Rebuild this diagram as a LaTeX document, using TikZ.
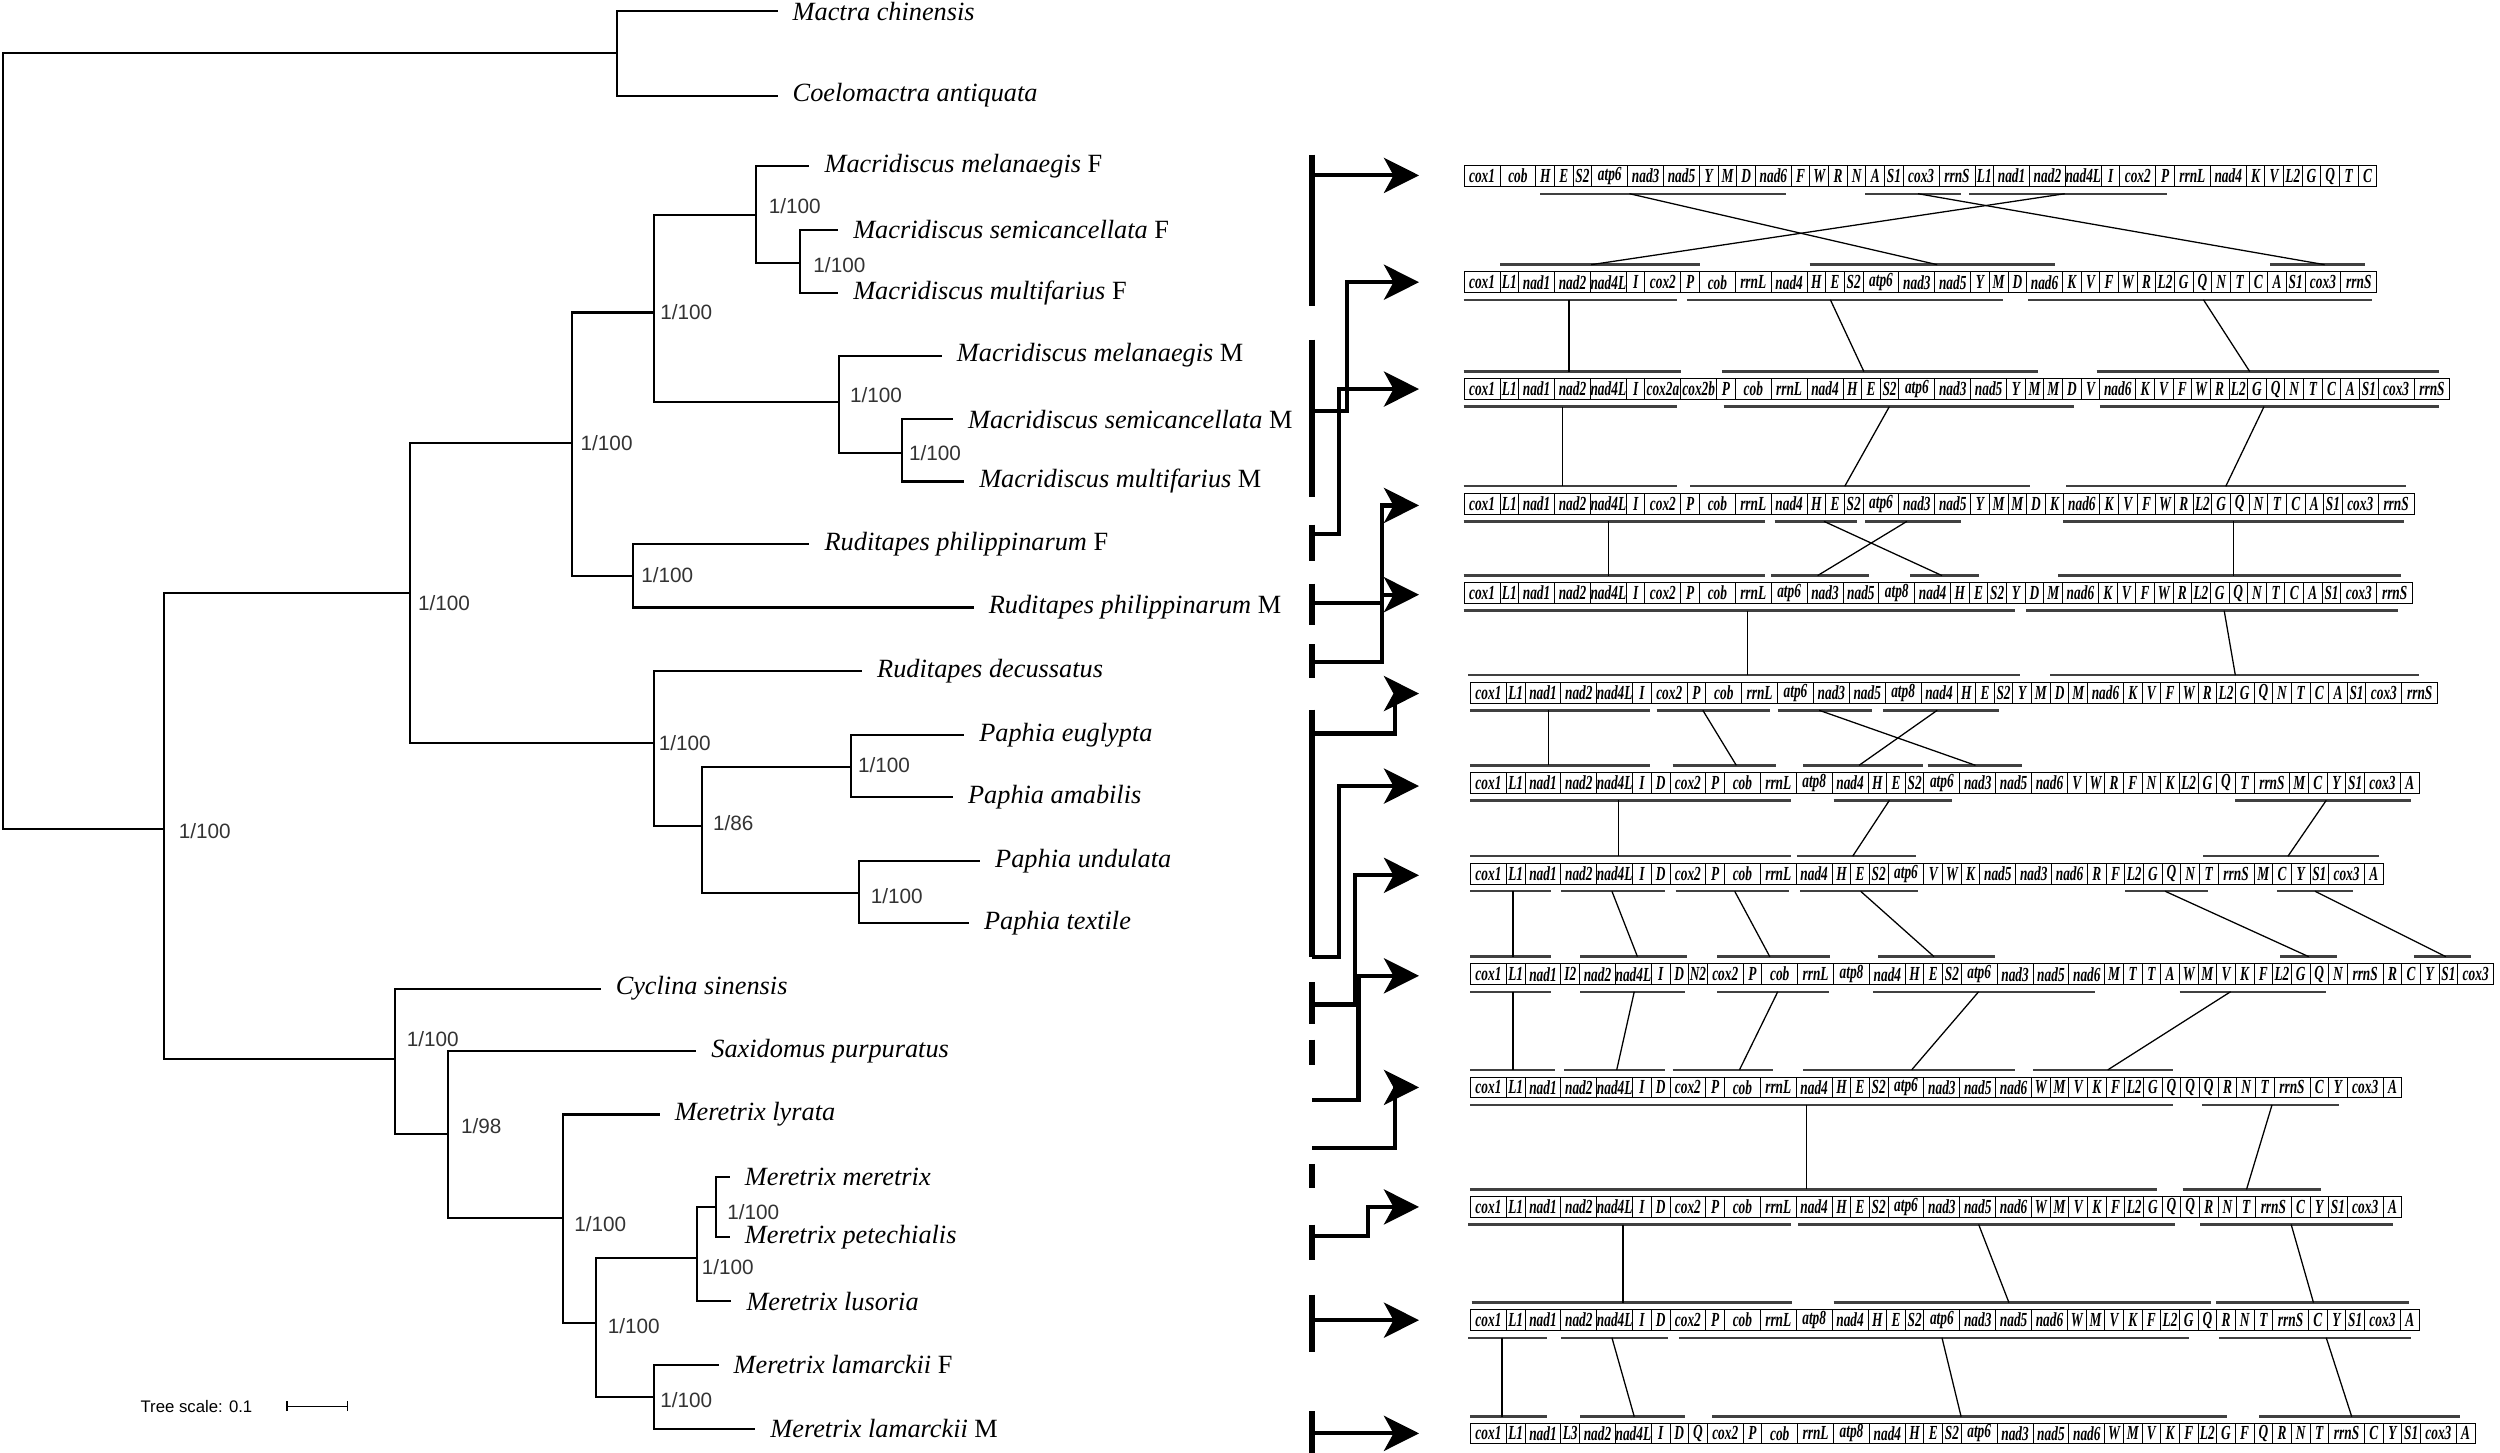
\documentclass[tikz,border=0pt]{standalone}
\usepackage{fontspec}
\setmainfont{Liberation Serif}
\newfontfamily\labfont{Liberation Sans}
\usepackage{graphicx}
\usetikzlibrary{arrows.meta}
\newcommand\genefont{\fontsize{12.5}{12.5}\selectfont\bfseries\itshape}
\def\gchk#1#2#3#4\end{\ifx\relax#3\gdef\gw{11.7}\else\gdef\gw{22.5}\fi}
\newcommand\generow[4]{%
  \xdef\gx{#3}%
  \foreach \g [count=\i] in {#4}{%
    \expandafter\gchk\g\relax\relax\relax\end
    \node[gbox, minimum width=\gw pt] (#1g\i) at (\gx,#2) {\scalebox{0.67}[1]{\g}};
    \pgfmathsetmacro\nx{\gx+\gw}\xdef\gx{\nx}%
  }%
}
\newcommand\genebars[2]{\foreach \a/\b in {#2}{\draw[genebar] (\a,#1) -- (\b,#1);}}
\newcommand\genelinks[3]{\foreach \a/\b in {#3}{\draw[geneconn] (\a,#1) -- (\b,#2);}}
\begin{document}
\begin{tikzpicture}[x=1pt,y=-1pt,
  gbox/.style={draw, line width=0.6pt, fill=white, minimum height=13pt, inner sep=0pt, anchor=west, font=\genefont},
  genebar/.style={line width=1.5pt, black!75},
  geneconn/.style={line width=0.8pt},
  tree/.style={line width=1.3pt, line cap=rect},
  leaf/.style={anchor=west, inner xsep=10pt, inner ysep=1pt, font=\fontsize{16.5}{18}\selectfont\itshape},
  bs/.style={anchor=west, inner sep=0pt, font=\labfont\fontsize{13}{13}\selectfont, text=black!80},
  thickbar/.style={line width=3.6pt},
  bigarrow/.style={line width=2.6pt, -{Stealth[length=22pt,width=22pt,inset=6pt]}},
]
\useasboundingbox (0,0) rectangle (1568,911);
\fill[white] (0,0) rectangle (1568,911);

% ---------------- tree ----------------
\coordinate (root) at (2,276);
\coordinate (nA) at (387,33);
\coordinate (nB) at (103,520);
\coordinate (nC) at (257,372);
\coordinate (nD) at (359,278);
\coordinate (nE) at (410,196);
\coordinate (nF) at (474,135);
\coordinate (nG) at (502,165);
\coordinate (nM) at (526,252);
\coordinate (nN) at (566,284);
\coordinate (nR) at (397,361);
\coordinate (nP) at (410,466);
\coordinate (nQ) at (440,518);
\coordinate (nU) at (534,481);
\coordinate (nV) at (539,560);
\coordinate (nT) at (248,664);
\coordinate (nW) at (281,711);
\coordinate (nX) at (353,764);
\coordinate (nY) at (374,830);
\coordinate (nZ) at (437,789);
\coordinate (nZa) at (449,757);
\coordinate (nL) at (410,876);

\node[leaf] (lmc) at (487,7) {Mactra chinensis};
\node[leaf] (lca) at (487,60) {Coelomactra antiquata};
\node[leaf] (lmmF) at (507,104) {Macridiscus melanaegis \textup{F}};
\node[leaf] (lmsF) at (525,144) {Macridiscus semicancellata \textup{F}};
\node[leaf] (lmfF) at (525,184) {Macridiscus multifarius \textup{F}};
\node[leaf] (lmmM) at (590,223) {Macridiscus melanaegis \textup{M}};
\node[leaf] (lmsM) at (597,263) {Macridiscus semicancellata \textup{M}};
\node[leaf] (lmfM) at (604,302) {Macridiscus multifarius \textup{M}};
\node[leaf] (lrpF) at (507,341) {Ruditapes philippinarum \textup{F}};
\node[leaf] (lrpM) at (610,381) {Ruditapes philippinarum \textup{M}};
\node[leaf] (lrd) at (540,421) {Ruditapes decussatus};
\node[leaf] (lpe) at (604,461) {Paphia euglypta};
\node[leaf] (lpa) at (597,500) {Paphia amabilis};
\node[leaf] (lpu) at (614,540) {Paphia undulata};
\node[leaf] (lpt) at (607,579) {Paphia textile};
\node[leaf] (lcs) at (376,620) {Cyclina sinensis};
\node[leaf] (lsp) at (436,659) {Saxidomus purpuratus};
\node[leaf] (lml) at (413,699) {Meretrix lyrata};
\node[leaf] (lmm) at (457,738) {Meretrix meretrix};
\node[leaf] (lmp) at (457,776) {Meretrix petechialis};
\node[leaf] (lmlu) at (458,816) {Meretrix lusoria};
\node[leaf] (lmlF) at (450,856) {Meretrix lamarckii \textup{F}};
\node[leaf] (lmlM) at (473,896) {Meretrix lamarckii \textup{M}};

\foreach \p/\c in {root/nA, root/nB, nA/lmc, nA/lca, nB/nC, nB/nT, nC/nD, nC/nP,
  nD/nE, nD/nR, nE/nF, nE/nM, nF/lmmF, nF/nG, nG/lmsF, nG/lmfF, nM/lmmM, nM/nN,
  nN/lmsM, nN/lmfM, nR/lrpF, nR/lrpM, nP/lrd, nP/nQ, nQ/nU, nQ/nV, nU/lpe, nU/lpa,
  nV/lpu, nV/lpt, nT/lcs, nT/nW, nW/lsp, nW/nX, nX/lml, nX/nY, nY/nZ, nY/nL,
  nZ/nZa, nZ/lmlu, nZa/lmm, nZa/lmp, nL/lmlF, nL/lmlM}
  {\draw[tree] (\p |- \c) -- (\c.west);}
\foreach \p/\a/\b in {root/nA/nB, nA/lmc/lca, nB/nC/nT, nC/nD/nP, nD/nE/nR, nE/nF/nM,
  nF/lmmF/nG, nG/lmsF/lmfF, nM/lmmM/nN, nN/lmsM/lmfM, nR/lrpF/lrpM, nP/lrd/nQ,
  nQ/nU/nV, nU/lpe/lpa, nV/lpu/lpt, nT/lcs/nW, nW/lsp/nX, nX/lml/nY, nY/nZ/nL,
  nZ/nZa/lmlu, nZa/lmm/lmp, nL/lmlF/lmlM}
  {\draw[tree] (\p |- \a) -- (\p |- \b);}

\node[bs] (bB) at (112,521) {1/100};
\node[bs] (bC) at (262,378) {1/100};
\node[bs] (bD) at (364,278) {1/100};
\node[bs] (bE) at (414,196) {1/100};
\node[bs] (bF) at (482,129) {1/100};
\node[bs] (bG) at (510,166) {1/100};
\node[bs] (bM) at (533,248) {1/100};
\node[bs] (bN) at (570,284) {1/100};
\node[bs] (bR) at (402,361) {1/100};
\node[bs] (bP) at (413,466) {1/100};
\node[bs] (bQ) at (447,516) {1/86};
\node[bs] (bU) at (538,480) {1/100};
\node[bs] (bV) at (546,562) {1/100};
\node[bs] (bT) at (255,652) {1/100};
\node[bs] (bW) at (289,706) {1/98};
\node[bs] (bX) at (360,768) {1/100};
\node[bs] (bY) at (381,832) {1/100};
\node[bs] (bZ) at (440,795) {1/100};
\node[bs] (bZa) at (456,760) {1/100};
\node[bs] (bL) at (414,878) {1/100};

\node[anchor=west, inner sep=0pt, font=\labfont\fontsize{10.5}{11}\selectfont] (tsc) at (88,882) {Tree scale: 0.1};
\coordinate (sb1) at (180,882);
\coordinate (sb2) at (218,882);
\draw[line width=0.8pt] (sb1) -- (sb2);
\draw[line width=0.8pt] ([yshift=-3pt]sb1) -- ([yshift=3pt]sb1);
\draw[line width=0.8pt] ([yshift=-3pt]sb2) -- ([yshift=3pt]sb2);

% ---------------- middle bars and arrows ----------------
\foreach \a/\b in {97/192, 213/312, 329/352, 366/392, 404/425, 445/600, 616/642,
  652/668, 730/745, 768/790, 812/848, 885/911}
  {\draw[thickbar] (823,\a) -- (823,\b);}
\draw[bigarrow] (823,110) -- (890,110);
\draw[bigarrow] (823,258) -- (845,258) -- (845,177) -- (890,177);
\draw[bigarrow] (823,335) -- (840,335) -- (840,244) -- (890,244);
\draw[bigarrow] (823,378) -- (867,378) -- (867,317) -- (890,317);
\draw[bigarrow] (823,415) -- (867,415) -- (867,373) -- (890,373);
\draw[bigarrow] (823,460) -- (875,460) -- (875,435) -- (890,435);
\draw[bigarrow] (823,600) -- (840,600) -- (840,493) -- (890,493);
\draw[bigarrow] (823,630) -- (850,630) -- (850,549) -- (890,549);
\draw[bigarrow] (823,690) -- (852,690) -- (852,612) -- (890,612);
\draw[bigarrow] (823,720) -- (875,720) -- (875,682) -- (890,682);
\draw[bigarrow] (823,775) -- (858,775) -- (858,757) -- (890,757);
\draw[bigarrow] (823,828) -- (890,828);
\draw[bigarrow] (823,899) -- (890,899);

% ---------------- gene orders ----------------
\generow{r1}{110.5}{918}{cox1,cob,H,E,S2,atp6,nad3,nad5,Y,M,D,nad6,F,W,R,N,A,S1,cox3,rrnS,L1,nad1,nad2,nad4L,I,cox2,P,rrnL,nad4,K,V,L2,G,Q,T,C}
\generow{r2}{177}{918}{cox1,L1,nad1,nad2,nad4L,I,cox2,P,cob,rrnL,nad4,H,E,S2,atp6,nad3,nad5,Y,M,D,nad6,K,V,F,W,R,L2,G,Q,N,T,C,A,S1,cox3,rrnS}
\generow{r3}{244}{918}{cox1,L1,nad1,nad2,nad4L,I,cox2a,cox2b,P,cob,rrnL,nad4,H,E,S2,atp6,nad3,nad5,Y,M,M,D,V,nad6,K,V,F,W,R,L2,G,Q,N,T,C,A,S1,cox3,rrnS}
\generow{r4}{316}{918}{cox1,L1,nad1,nad2,nad4L,I,cox2,P,cob,rrnL,nad4,H,E,S2,atp6,nad3,nad5,Y,M,M,D,K,nad6,K,V,F,W,R,L2,G,Q,N,T,C,A,S1,cox3,rrnS}
\generow{r5}{372}{918}{cox1,L1,nad1,nad2,nad4L,I,cox2,P,cob,rrnL,atp6,nad3,nad5,atp8,nad4,H,E,S2,Y,D,M,nad6,K,V,F,W,R,L2,G,Q,N,T,C,A,S1,cox3,rrnS}
\generow{r6}{434.5}{922}{cox1,L1,nad1,nad2,nad4L,I,cox2,P,cob,rrnL,atp6,nad3,nad5,atp8,nad4,H,E,S2,Y,M,D,M,nad6,K,V,F,W,R,L2,G,Q,N,T,C,A,S1,cox3,rrnS}
\generow{r7}{491}{922}{cox1,L1,nad1,nad2,nad4L,I,D,cox2,P,cob,rrnL,atp8,nad4,H,E,S2,atp6,nad3,nad5,nad6,V,W,R,F,N,K,L2,G,Q,T,rrnS,M,C,Y,S1,cox3,A}
\generow{r8}{548}{922}{cox1,L1,nad1,nad2,nad4L,I,D,cox2,P,cob,rrnL,nad4,H,E,S2,atp6,V,W,K,nad5,nad3,nad6,R,F,L2,G,Q,N,T,rrnS,M,C,Y,S1,cox3,A}
\generow{r9}{611}{922}{cox1,L1,nad1,I2,nad2,nad4L,I,D,N2,cox2,P,cob,rrnL,atp8,nad4,H,E,S2,atp6,nad3,nad5,nad6,M,T,T,A,W,M,V,K,F,L2,G,Q,N,rrnS,R,C,Y,S1,cox3}
\generow{r10}{682}{922}{cox1,L1,nad1,nad2,nad4L,I,D,cox2,P,cob,rrnL,nad4,H,E,S2,atp6,nad3,nad5,nad6,W,M,V,K,F,L2,G,Q,Q,Q,R,N,T,rrnS,C,Y,cox3,A}
\generow{r11}{757}{922}{cox1,L1,nad1,nad2,nad4L,I,D,cox2,P,cob,rrnL,nad4,H,E,S2,atp6,nad3,nad5,nad6,W,M,V,K,F,L2,G,Q,Q,R,N,T,rrnS,C,Y,S1,cox3,A}
\generow{r12}{828}{922}{cox1,L1,nad1,nad2,nad4L,I,D,cox2,P,cob,rrnL,atp8,nad4,H,E,S2,atp6,nad3,nad5,nad6,W,M,V,K,F,L2,G,Q,R,N,T,rrnS,C,Y,S1,cox3,A}
\generow{r13}{899}{922}{cox1,L1,nad1,L3,nad2,nad4L,I,D,Q,cox2,P,cob,rrnL,atp8,nad4,H,E,S2,atp6,nad3,nad5,nad6,W,M,V,K,F,L2,G,F,Q,R,N,T,rrnS,C,Y,S1,cox3,A}

% ---------------- block bars and links ----------------
\genebars{121.5}{966/1120, 1170/1230, 1235/1359}
\genebars{166}{941/1066, 1135/1289, 1424/1483}
\genelinks{121.5}{166}{1022/1215, 1203/1458, 1295/998}
\genebars{188}{918/1052, 1058/1256, 1272/1488}
\genebars{233}{918/1054, 1080/1278, 1315/1530}
\genelinks{188}{233}{984/984, 1148/1169, 1382/1411}
\genebars{255}{918/1052, 1081/1301, 1317/1530}
\genebars{305}{918/1052, 1060/1273, 1296/1509}
\genelinks{255}{305}{980/980, 1185/1157, 1420/1396}
\genebars{327}{918/1107, 1113/1165, 1170/1230, 1294/1508}
\genebars{361}{918/1107, 1111/1172, 1198/1241, 1291/1506}
\genelinks{327}{361}{1009/1009, 1144/1218, 1196/1140, 1401/1401}
\genebars{383}{918/1264, 1271/1504}
\genebars{423.5}{921/1267, 1286/1517}
\genelinks{383}{423.5}{1096/1096, 1395/1402}
\genebars{445.5}{922/1035, 1039/1110, 1115/1174, 1181/1254}
\genebars{480}{922/1035, 1049/1114, 1131/1206, 1209/1268}
\genelinks{445.5}{480}{971/971, 1068/1089, 1141/1239, 1215/1166}
\genebars{502}{922/1123, 1150/1224, 1402/1512}
\genebars{537}{922/1123, 1127/1202, 1382/1492}
\genelinks{502}{537}{1015/1015, 1185/1162, 1459/1435}
\genebars{559}{922/973, 979/1044, 1051/1122, 1129/1203, 1333/1385, 1428/1476}
\genebars{600}{922/973, 991/1058, 1077/1148, 1178/1251, 1430/1466, 1514/1550}
\genelinks{559}{600}{949/949, 1011/1027, 1088/1110, 1167/1213, 1358/1448, 1452/1534}
\genebars{622}{922/973, 991/1057, 1077/1147, 1175/1314, 1367/1459}
\genebars{671}{922/975, 981/1044, 1049/1112, 1131/1264, 1275/1363}
\genelinks{622}{671}{949/949, 1025/1014, 1115/1091, 1241/1199, 1399/1322}
\genebars{693}{922/1363, 1381/1467}
\genebars{746}{922/1353, 1369/1456}
\genelinks{693}{746}{1133/1133, 1425/1409}
\genebars{768}{921/1123, 1128/1364, 1380/1501}
\genebars{817}{923/1124, 1150/1387, 1390/1511}
\genelinks{768}{817}{1018/1018, 1241/1260, 1437/1451}
\genebars{839}{921/970, 979/1046, 1053/1373, 1392/1512}
\genebars{888.5}{922/970, 991/1057, 1074/1397, 1417/1543}
\genelinks{839}{888.5}{942/942, 1011/1025, 1218/1230, 1459/1475}
\end{tikzpicture}
\end{document}
